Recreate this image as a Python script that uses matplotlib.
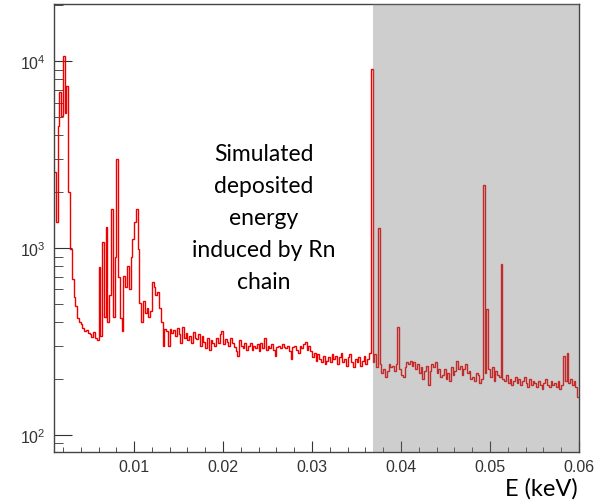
import numpy as np
import matplotlib
matplotlib.use("Agg")
import matplotlib.pyplot as plt
from matplotlib.ticker import LogLocator, NullFormatter, MultipleLocator

plt.rcParams['font.family'] = ['Liberation Sans', 'DejaVu Sans']
plt.rcParams['mathtext.fontset'] = 'custom'
plt.rcParams['mathtext.rm'] = 'Liberation Sans'

# energy binning (keV)
e_min = 0.001
e_max = 0.060
bin_width = 0.0002

# counts per bin, 10 bins per row (0.002 keV per row)
counts = [
    2540, 1380, 4480, 6800, 5100, 10600, 5300, 7400, 2000, 990,
    680, 550, 490, 420, 400, 390, 375, 360, 365, 350,
    345, 335, 355, 330, 320, 790, 340, 1075, 430, 1290,
    400, 560, 1620, 430, 900, 3000, 700, 420, 360, 710,
    620, 800, 600, 900, 1120, 1380, 1620, 990, 510, 400,
    520, 450, 480, 430, 460, 660, 620, 560, 580, 480,
    400, 300, 370, 360, 300, 370, 350, 365, 340, 375,
    345, 310, 380, 330, 350, 320, 340, 310, 355, 330,
    325, 345, 300, 340, 315, 290, 330, 285, 320, 310,
    300, 330, 310, 345, 360, 305, 325, 315, 300, 330,
    310, 295, 280, 265, 320, 300, 290, 310, 285, 300,
    310, 285, 300, 290, 305, 280, 310, 290, 330, 285,
    300, 290, 305, 285, 265, 295, 300, 290, 305, 295,
    290, 300, 280, 255, 295, 300, 285, 275, 300, 290,
    305, 315, 285, 300, 280, 260, 275, 250, 270, 255,
    245, 265, 240, 250, 260, 245, 270, 255, 265, 240,
    260, 275, 245, 255, 235, 260, 270, 245, 230, 255,
    245, 260, 235, 250, 265, 240, 255, 275, 9060, 245,
    270, 230, 1280, 240, 215, 225, 205, 220, 240, 230,
    235, 220, 240, 378, 225, 210, 205, 230, 245, 240,
    250, 235, 245, 225, 240, 215, 230, 200, 220, 235,
    185, 220, 240, 230, 245, 215, 225, 205, 210, 225,
    200, 215, 195, 230, 210, 220, 250, 225, 235, 210,
    225, 240, 215, 220, 200, 205, 195, 215, 210, 190,
    200, 2170, 215, 472, 225, 205, 230, 195, 220, 210,
    205, 820, 200, 195, 210, 190, 200, 185, 195, 205,
    190, 200, 185, 195, 205, 190, 180, 200, 185, 195,
    190, 180, 195, 185, 175, 190, 200, 185, 180, 195,
    185, 190, 180, 195, 175, 185, 265, 195, 275, 190,
    200, 185, 195, 180, 160,
]

# region shaded on the plot
shade_start = 0.0369

edges = e_min + bin_width * np.arange(len(counts) + 1)

fig = plt.figure(figsize=(6.11, 5.02), dpi=100)
ax = fig.add_axes([0.0884, 0.0976, 0.8592, 0.8924])

ax.stairs(counts, edges, baseline=None, color='#ee0000', lw=1.0, zorder=2)
ax.axvspan(shade_start, e_max, color=(0.47, 0.47, 0.47), alpha=0.36,
           lw=0, zorder=3)

ax.set_yscale('log')
ax.set_xlim(e_min, e_max)
ax.set_ylim(81, 20200)

ax.xaxis.set_major_locator(MultipleLocator(0.01))
ax.xaxis.set_minor_locator(MultipleLocator(0.002))
ax.yaxis.set_major_locator(LogLocator(base=10))
ax.yaxis.set_minor_locator(LogLocator(base=10, subs=np.arange(2, 10)))
ax.yaxis.set_minor_formatter(NullFormatter())

ax.tick_params(axis='both', which='both', direction='in', colors='#333333',
               labelsize=11.5, top=False, right=False)
ax.tick_params(axis='x', which='major', length=8, pad=5)
ax.tick_params(axis='x', which='minor', length=3.6)
ax.tick_params(axis='y', which='major', length=13, pad=6)
ax.tick_params(axis='y', which='minor', length=6.5)
for s in ax.spines.values():
    s.set_color('#444444')
    s.set_linewidth(1.0)

ax.text(0.40, 0.524, "Simulated\ndeposited\nenergy\ninduced by Rn\nchain",
        transform=ax.transAxes, ha='center', va='center', fontsize=16.5,
        family='Lato', linespacing=1.65, color='black', zorder=4)

fig.text(0.946, 0.026, "E (keV)", ha='right', va='center', fontsize=17,
         family='Lato', color='black')

fig.savefig('out.png', dpi=100)
